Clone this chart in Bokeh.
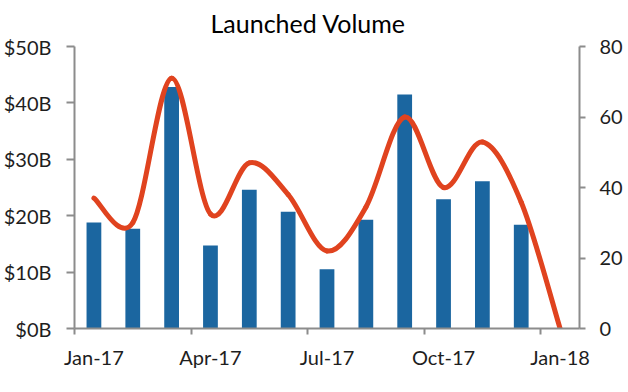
from bokeh.plotting import figure
from bokeh.models import Range1d, LinearAxis, FixedTicker, PrintfTickFormatter
from bokeh.embed import file_html
from bokeh.resources import INLINE

# ---- data ----
tick_labels = ["Jan-17", "Apr-17", "Jul-17", "Oct-17", "Jan-18"]
tick_months = [0, 3, 6, 9, 12]
bar_months = [0, 1, 2, 3, 4, 5, 6, 7, 8, 9, 10, 11]          # Jan-17 .. Dec-17
volume_b = [18.8, 17.7, 42.8, 14.7, 24.6, 20.7, 10.5, 19.3, 41.5, 22.9, 26.1, 18.4]
line_months = [0, 1, 2, 3, 4, 5, 6, 7, 8, 9, 10, 11, 12]     # Jan-17 .. Jan-18
count = [37, 30, 71, 32.5, 47, 38, 22, 34.4, 60, 40, 52.9, 35.8, 0]

FONT = "Lato"
AXIS_COLOR = "#8c8c8c"
TEXT_COLOR = "#1e1e1e"
BAR_COLOR = "#1b66a0"
LINE_COLOR = "#e0431f"

p = figure(width=620, height=376, output_backend="svg", toolbar_location=None,
           x_range=Range1d(0, 13), y_range=Range1d(0, 50),
           frame_width=505, frame_height=282,
           min_border_left=74, min_border_right=41, min_border_top=46, min_border_bottom=48)
p.extra_y_ranges = {"count": Range1d(0, 80)}
p.outline_line_color = None
p.grid.visible = False
p.background_fill_color = "white"
p.border_fill_color = "white"

# bars at mid-month
bx = [m + 0.5 for m in bar_months]
p.vbar(x=bx, top=volume_b, width=0.38, color=BAR_COLOR, line_color=None)

# smoothed line (Catmull-Rom as cubic Bezier segments)
lx = [m + 0.5 for m in line_months]
n = len(lx)
x0, y0, x1, y1, cx0, cy0, cx1, cy1 = [], [], [], [], [], [], [], []
for i in range(n - 1):
    xa, ya = lx[max(i - 1, 0)], count[max(i - 1, 0)]
    xb, yb = lx[i], count[i]
    xc, yc = lx[i + 1], count[i + 1]
    xd, yd = lx[min(i + 2, n - 1)], count[min(i + 2, n - 1)]
    x0.append(xb); y0.append(yb)
    x1.append(xc); y1.append(yc)
    cx0.append(xb + (xc - xa) / 6); cy0.append(yb + (yc - ya) / 6)
    cx1.append(xc - (xd - xb) / 6); cy1.append(yc - (yd - yb) / 6)
p.bezier(x0=x0, y0=y0, x1=x1, y1=y1, cx0=cx0, cy0=cy0, cx1=cx1, cy1=cy1,
         line_color=LINE_COLOR, line_width=5, line_cap="round", y_range_name="count")

# right axis
ra = LinearAxis(y_range_name="count")
p.add_layout(ra, "right")

# x axis: labels centred mid-month, tick marks at quarter starts (minor ticks)
xa_ = p.xaxis[0]
xa_.ticker = FixedTicker(ticks=[m + 0.5 for m in tick_months], minor_ticks=tick_months)
xa_.major_label_overrides = {m + 0.5: lab for m, lab in zip(tick_months, tick_labels)}
xa_.major_tick_out = 0
xa_.major_tick_line_color = None
xa_.minor_tick_out = 6
xa_.minor_tick_in = 0
xa_.minor_tick_line_color = AXIS_COLOR
xa_.minor_tick_line_width = 2
xa_.major_label_standoff = 10

ya_ = p.yaxis[0]
ya_.ticker = FixedTicker(ticks=[0, 10, 20, 30, 40, 50])
ya_.formatter = PrintfTickFormatter(format="$%dB")
ya_.major_label_standoff = 15
ya_.major_tick_out = 8
ya_.major_tick_line_color = AXIS_COLOR
ya_.minor_tick_line_color = None

ra.ticker = FixedTicker(ticks=[0, 20, 40, 60, 80])
ra.major_label_standoff = 14
ra.major_tick_out = 6
ra.major_tick_line_color = AXIS_COLOR
ra.minor_tick_line_color = None

for ax in [xa_, ya_, ra]:
    ax.axis_line_color = AXIS_COLOR
    ax.axis_line_width = 2
    ax.major_tick_line_width = 2
    ax.major_tick_in = 0
    ax.major_label_text_font = FONT
    ax.major_label_text_font_size = "20px"
    ax.major_label_text_color = TEXT_COLOR

p.title.text = "Launched Volume"
p.title.text_font = FONT
p.title.text_font_size = "25px"
p.title.text_font_style = "normal"
p.title.text_color = "black"
p.title.align = "left"
p.title.offset = 136
p.title.vertical_align = "top"
p.title.standoff = 14

open("out.html", "w").write(file_html(p, INLINE))
